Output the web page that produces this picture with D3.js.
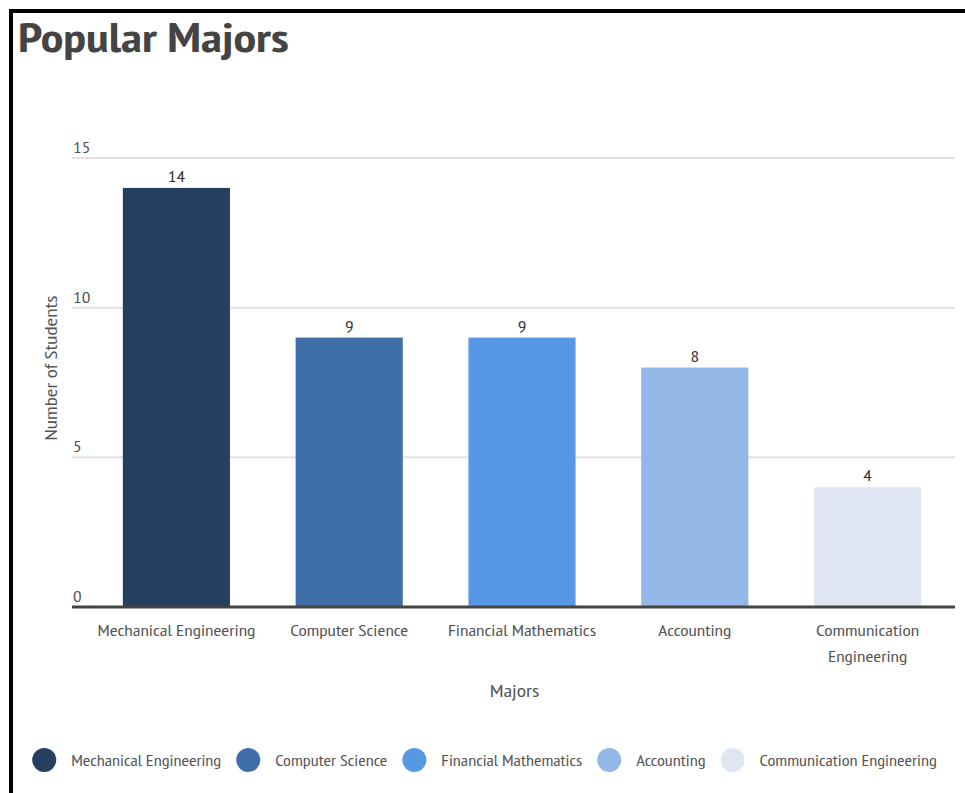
<!DOCTYPE html>
<html>
<head>
<meta charset="utf-8">
<script src="https://cdn.jsdelivr.net/npm/d3@7"></script>
<style>
  html, body { margin: 0; padding: 0; background: #fff; }
  svg { display: block; }
  text { font-family: "Liberation Sans Narrow", "PT Sans Narrow", "Arial Narrow", sans-serif; }
</style>
</head>
<body>
<svg id="chart" width="965" height="793"></svg>
<script>
// Majors and their student counts
const majors = ["Mechanical Engineering", "Computer Science", "Financial Mathematics", "Accounting", "Communication Engineering"];
const students = [14, 9, 9, 8, 4];
const barColors = ["#263f5f", "#3f6ea8", "#5698e3", "#93b7e7", "#dfe6f1"];
const yTicks = [0, 5, 10, 15];
// Axis labels wrap onto two lines where needed
const xLabelLines = [["Mechanical Engineering"], ["Computer Science"], ["Financial Mathematics"], ["Accounting"], ["Communication", "Engineering"]];

const svg = d3.select("#chart");

// Place a text at (x, y) and widen its glyphs horizontally by sx
function place(sel, xPos, yPos, sx) {
  return sel.attr("x", 0).attr("y", 0)
    .attr("transform", (d, i) => {
      const px = typeof xPos === "function" ? xPos(d, i) : xPos;
      const py = typeof yPos === "function" ? yPos(d, i) : yPos;
      return `translate(${px},${py}) scale(${sx},1)`;
    });
}

// Frame: thick rule across the top and down the left side
svg.append("rect").attr("x", 9).attr("y", 9).attr("width", 956).attr("height", 4).attr("fill", "#000");
svg.append("rect").attr("x", 9).attr("y", 9).attr("width", 4).attr("height", 784).attr("fill", "#000");

// Title
place(svg.append("text"), 18, 52, 1.27)
  .attr("font-size", 40).attr("font-weight", "bold")
  .attr("fill", "#444")
  .text("Popular Majors");

const gridLeft = 72, gridRight = 955;
const x = d3.scaleBand().domain(majors).range([90, 954]).paddingInner(0.38).paddingOuter(0.19);
const y = d3.scaleLinear().domain([0, 15]).range([607, 158]);
const cx = d => x(d) + x.bandwidth() / 2;

// Horizontal gridlines with tick labels sitting above them
const grid = svg.append("g");
grid.selectAll("line").data(yTicks.filter(d => d > 0)).join("line")
  .attr("x1", gridLeft).attr("x2", gridRight)
  .attr("y1", d => y(d)).attr("y2", d => y(d))
  .attr("stroke", "#e3e3e3").attr("stroke-width", 2);
place(grid.selectAll("text").data(yTicks).join("text"), 73, d => y(d) - 5, 1.2)
  .attr("font-size", 16).attr("fill", "#555")
  .text(d => d);

// Bars
svg.append("g").selectAll("rect").data(majors).join("rect")
  .attr("x", d => x(d))
  .attr("y", (d, i) => y(students[i]))
  .attr("width", x.bandwidth())
  .attr("height", (d, i) => y(0) - y(students[i]))
  .attr("fill", (d, i) => barColors[i]);

// Value labels above bars
place(svg.append("g").selectAll("text").data(majors).join("text"), cx, (d, i) => y(students[i]) - 6, 1.2)
  .attr("text-anchor", "middle")
  .attr("font-size", 16).attr("fill", "#333")
  .text((d, i) => students[i]);

// Baseline
svg.append("line")
  .attr("x1", gridLeft).attr("x2", gridRight)
  .attr("y1", y(0)).attr("y2", y(0))
  .attr("stroke", "#444").attr("stroke-width", 3);

// Category labels
const xl = place(svg.append("g").selectAll("text").data(majors).join("text"), cx, 636, 1.2)
  .attr("text-anchor", "middle")
  .attr("font-size", 16).attr("fill", "#555");
xl.each(function(d, i) {
  const t = d3.select(this);
  xLabelLines[i].forEach((line, j) => {
    t.append("tspan").attr("x", 0).attr("dy", j === 0 ? 0 : 26).text(line);
  });
});

// Axis titles
place(svg.append("text"), (gridLeft + gridRight) / 2 + 1, 697, 1.2)
  .attr("text-anchor", "middle")
  .attr("font-size", 18).attr("fill", "#555")
  .text("Majors");
svg.append("text")
  .attr("transform", "translate(57,368) rotate(-90)")
  .attr("text-anchor", "middle")
  .attr("font-size", 18).attr("textLength", 145).attr("lengthAdjust", "spacingAndGlyphs")
  .attr("fill", "#555")
  .text("Number of Students");

// Legend, laid out left to right from measured label widths
const legend = svg.append("g");
let cursor = 0;
const legSx = 1.14;
majors.forEach((m, i) => {
  const g = legend.append("g");
  g.append("circle").attr("cx", 12).attr("cy", 0).attr("r", 12).attr("fill", barColors[i]);
  const t = place(g.append("text"), 39, 6, legSx).attr("font-size", 16).attr("fill", "#555").text(m);
  const w = 39 + t.node().getComputedTextLength() * legSx;
  g.attr("transform", `translate(${cursor},760)`);
  cursor += w + 15;
});
const totalW = cursor - 15;
legend.attr("transform", `translate(${31 + (907 - totalW) / 2},0)`);
</script>
</body>
</html>
